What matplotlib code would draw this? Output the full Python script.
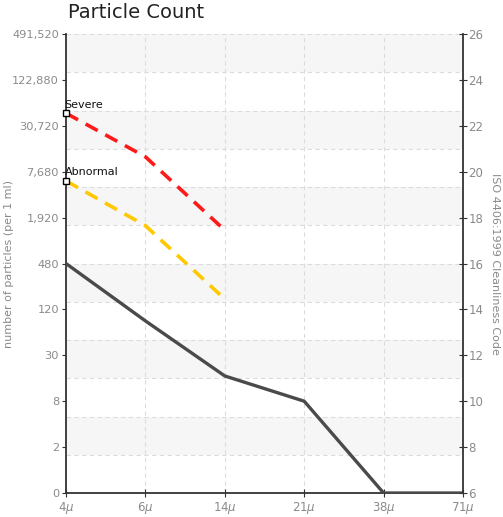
import matplotlib
matplotlib.use("Agg")
import matplotlib.pyplot as plt

sizes = ["4", "6", "14", "21", "38", "71"]
measured = [16.0, 13.5, 11.1, 10.0, 6.0, 6.0]
severe = [22.55, 20.65, 17.45]
abnormal = [19.6, 17.65, 14.45]
iso_ticks = [6, 8, 10, 12, 14, 16, 18, 20, 22, 24, 26]
count_labels = ["0", "2", "8", "30", "120", "480", "1,920", "7,680",
                "30,720", "122,880", "491,520"]

narrow = ["Liberation Sans Narrow", "DejaVu Sans"]
grey = "#8a8a8a"

fig = plt.figure(figsize=(5.03, 5.17), dpi=100)
ax = fig.add_axes([0.1312, 0.0464, 0.7893, 0.8878])
x = list(range(len(sizes)))

# alternating bands
n_bands = 12
step = (26 - 6) / n_bands
for i in range(n_bands):
    top = 26 - i * step
    if i % 2 == 0:
        ax.axhspan(top - step, top, color="#f6f6f6", zorder=0, lw=0)
    ax.axhline(top - step, color="#dcdcdc", ls=(0, (4, 3)), lw=0.8, zorder=1)
ax.axhline(26, color="#dcdcdc", ls=(0, (4, 3)), lw=0.8, zorder=1)
for xi in x[1:-1]:
    ax.axvline(xi, color="#dcdcdc", ls=(0, (4, 3)), lw=0.8, zorder=1)

ax.plot(x, measured, color="#4a4a4a", lw=2.4, zorder=3, solid_capstyle="butt")
ax.plot(x[:3], severe, color="#ff1a1a", lw=2.6, ls=(0, (3.8, 2.4)), zorder=3)
ax.plot(x[:3], abnormal, color="#ffc800", lw=2.6, ls=(0, (3.8, 2.4)), zorder=3)
ax.plot([0], [severe[0]], marker="s", ms=4.5, mfc="white", mec="black", mew=1, zorder=5, clip_on=False)
ax.plot([0], [abnormal[0]], marker="s", ms=4.5, mfc="white", mec="black", mew=1, zorder=5, clip_on=False)
ax.annotate("Severe", (0, severe[0]), xytext=(-1, 4), textcoords="offset points",
            fontsize=8, family=narrow, color="#111111", zorder=6)
ax.annotate("Abnormal", (0, abnormal[0]), xytext=(-1, 4), textcoords="offset points",
            fontsize=8, family=narrow, color="#111111", zorder=6)

ax.set_xlim(0, len(sizes) - 1)
ax.set_ylim(6, 26)
ax.set_xticks(x)
ax.set_xticklabels([s + r"$\mu$" for s in sizes], color=grey, fontsize=8.5, family=narrow)
ax.set_yticks(iso_ticks)
ax.set_yticklabels(count_labels, color=grey, fontsize=8.2, family=narrow)
ax.tick_params(axis="x", direction="inout", length=6, color="#333333", pad=2)
ax.tick_params(axis="y", direction="out", length=3, color="#333333", pad=2)
for s in ["top", "right"]:
    ax.spines[s].set_visible(False)
ax.spines["left"].set_color("#333333")
ax.spines["bottom"].set_color("#333333")
ax.spines["left"].set_linewidth(1.3)
ax.spines["bottom"].set_linewidth(1.3)
ax.set_ylabel("number of particles (per 1 ml)", color=grey, fontsize=8)
ax.yaxis.set_label_coords(-0.132, 0.5)

ax2 = ax.twinx()
ax2.set_ylim(6, 26)
ax2.set_yticks(iso_ticks)
ax2.set_yticklabels([str(t) for t in iso_ticks], color=grey, fontsize=8.5, family=narrow)
ax2.tick_params(axis="y", direction="inout", length=6, color="#333333", pad=1)
for s in ["top", "left", "bottom"]:
    ax2.spines[s].set_visible(False)
ax2.spines["right"].set_color("#333333")
ax2.spines["right"].set_linewidth(1.3)
ax2.set_ylabel("ISO 4406:1999 Cleanliness Code", color=grey, fontsize=8,
               family=narrow, rotation=-90, labelpad=12)

fig.text(0.135, 0.975, "Particle Count", fontsize=14, color="#222222", va="center")

fig.savefig("out.png", dpi=100)
